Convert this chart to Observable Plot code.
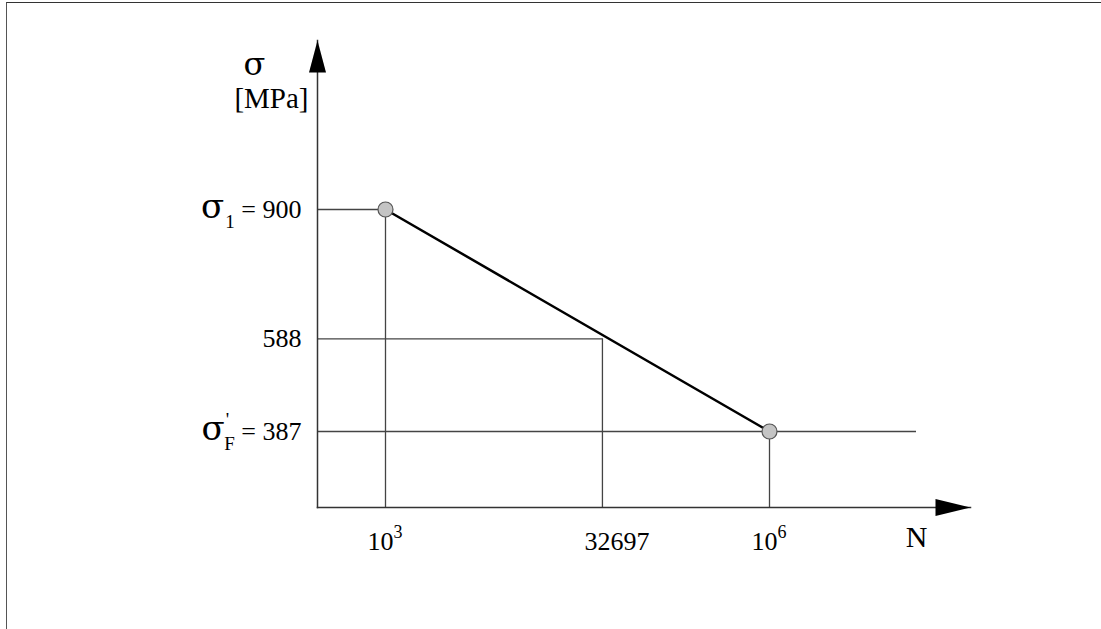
<!DOCTYPE html>
<html><head><meta charset="utf-8">
<script src="https://cdn.jsdelivr.net/npm/d3@7"></script>
<script src="https://cdn.jsdelivr.net/npm/@observablehq/plot@0.6"></script>
<style>
html,body{margin:0;padding:0;background:#fff;}
#wrap{position:relative;width:1101px;height:629px;overflow:hidden;background:#fff;}
#border{position:absolute;left:6px;top:2px;width:1200px;height:700px;border-top:1.5px solid #333;border-left:1.5px solid #555;}
#chart{position:absolute;left:0;top:0;}
</style></head><body>
<div id="wrap"><div id="border"></div><div id="chart"></div></div>
<script>
// ---- data ----
const cycles = [1000, 32697, 1000000];
const stress = [900, 588, 387];
const cycleBases = ["10", "32697", "10"];
const cycleExponents = ["3", "", "6"];
const stressSymbols = ["σ", "", "σ"];
const stressPrimes = ["", "", "'"];
const stressSubscripts = ["1", "", "F"];
const xAxisLabel = "N";
const yAxisSymbol = "σ";
const yAxisUnit = "[MPa]";

const points = cycles.map((N, i) => ({N, s: stress[i]}));
const snLine = [points[0], points[2]];           // S-N line from σ1 at 10^3 to σ'F at 10^6
const guideShort = points.slice(0, 2);            // horizontal guides ending at the curve
const guideLong = [points[2]];                    // endurance limit guide

const upArrow = {draw(ctx){ctx.moveTo(0,0);ctx.lineTo(8.5,32);ctx.lineTo(-8.5,32);ctx.closePath();}};
const rightArrow = {draw(ctx){ctx.moveTo(0,0);ctx.lineTo(-35,-8.5);ctx.lineTo(-35,8.5);ctx.closePath();}};

const guideStyle = {stroke: "#444", strokeWidth: 1.3};
const font = "'Liberation Serif', 'Times New Roman', serif";
const greek = "'DejaVu Serif', serif";

const plot = Plot.plot({
  width: 1101, height: 629,
  marginLeft: 317, marginRight: 131, marginTop: 40, marginBottom: 122,
  x: {type: "pow", exponent: -0.07, domain: [1000, 1000000], range: [385, 769], axis: null},
  y: {type: "pow", exponent: 0.75, domain: [387, 900], range: [431, 209], axis: null},
  style: {fontFamily: font, fontSize: "26px", background: "transparent", overflow: "visible", color: "#000"},
  marks: [
    Plot.ruleY(guideShort, {y: "s", x1: 1, x2: "N", clip: "frame", ...guideStyle}),
    Plot.ruleY(guideLong, {y: "s", insetRight: 54, ...guideStyle}),
    Plot.ruleX(points, {x: "N", y1: "s", clip: "frame", ...guideStyle}),
    Plot.frame({anchor: "left", stroke: "#333", strokeWidth: 1.5}),
    Plot.frame({anchor: "bottom", stroke: "#333", strokeWidth: 1.5}),
    Plot.dot([0], {x: null, y: null, frameAnchor: "top-left", symbol: upArrow, fill: "#000", stroke: "none"}),
    Plot.dot([0], {x: null, y: null, frameAnchor: "bottom-right", symbol: rightArrow, fill: "#000", stroke: "none"}),
    Plot.line(snLine, {x: "N", y: "s", stroke: "#000", strokeWidth: 2.5}),
    Plot.dot(snLine, {x: "N", y: "s", r: 7.5, fill: "#c4c4c4", stroke: "#555", strokeWidth: 1.2}),
    Plot.text(points, {y: "s", frameAnchor: "left", dx: -16, textAnchor: "end", fontSize: 26, className: "ylab",
      text: (d, i) => stressSymbols[i] + stressPrimes[i] + stressSubscripts[i] + (stressSymbols[i] ? " = " : "") + stress[i]}),
    Plot.text(points, {x: "N", frameAnchor: "bottom", dx: -18, dy: 42, textAnchor: "start", fontSize: 26, className: "xlab",
      text: (d, i) => cycleBases[i] + cycleExponents[i]}),
    Plot.text([xAxisLabel], {text: d => d, frameAnchor: "bottom-right", dx: -43, dy: 39, fontSize: 30}),
    Plot.text([yAxisSymbol], {text: d => d, frameAnchor: "top-left", dx: -74, dy: 12, fontSize: 32, fontFamily: greek}),
    Plot.text([yAxisUnit], {text: d => d, frameAnchor: "top-left", dx: -9, dy: 47, textAnchor: "end", fontSize: 29})
  ]
});

// rich text: subscripts / superscripts as tspans
const NS = "http://www.w3.org/2000/svg";
function tspan(parent, str, attrs) {
  const t = document.createElementNS(NS, "tspan");
  t.textContent = str;
  for (const k in attrs) t.setAttribute(k, attrs[k]);
  parent.appendChild(t);
}
plot.querySelectorAll("g.ylab text").forEach((el, i) => {
  if (!stressSymbols[i]) return;
  el.textContent = "";
  tspan(el, stressSymbols[i], {"font-size": 34, "font-family": greek});
  if (stressPrimes[i]) {
    tspan(el, stressPrimes[i], {"font-size": 19, dx: 1, dy: -14});
    tspan(el, stressSubscripts[i], {"font-size": 19, dx: -5, dy: 24});
  } else {
    tspan(el, stressSubscripts[i], {"font-size": 19, dx: 1, dy: 10});
  }
  tspan(el, " = " + stress[i], {"font-size": 26, dy: -10});
});
plot.querySelectorAll("g.xlab text").forEach((el, i) => {
  if (!cycleExponents[i]) return;
  el.textContent = "";
  tspan(el, cycleBases[i], {});
  tspan(el, cycleExponents[i], {"font-size": 18, dy: -12});
});

document.getElementById("chart").appendChild(plot);
</script>
</body></html>
